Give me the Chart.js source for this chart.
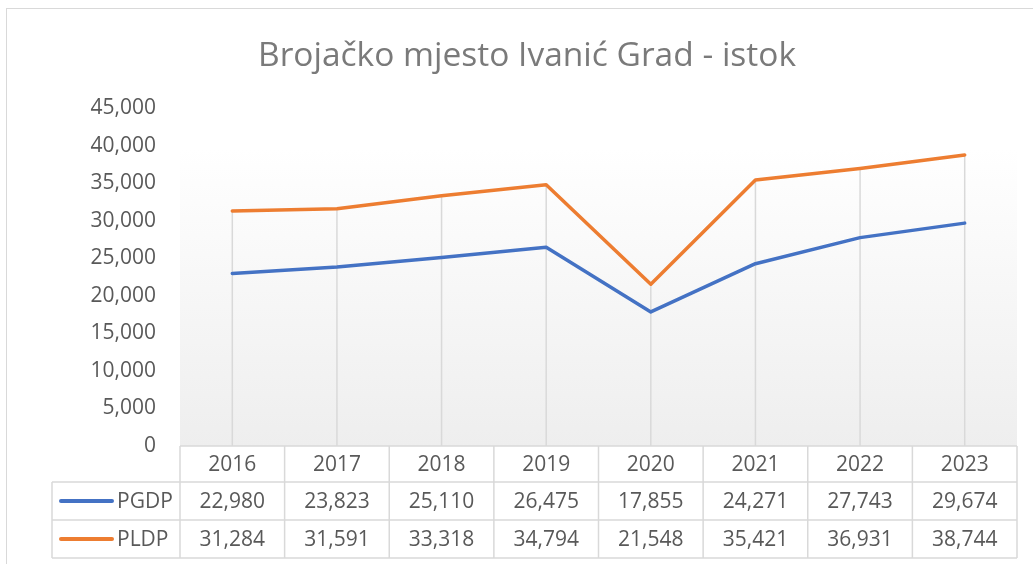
<!DOCTYPE html>
<html lang="hr">
<head>
  <meta charset="UTF-8">
  <title>Brojačko mjesto Ivanić Grad - istok</title>
  <script src="https://cdn.jsdelivr.net/npm/chart.js"></script>
  <style>
    html, body {
      margin: 0;
      padding: 0;
      background: #fff;
      overflow: hidden;
    }
    #okvir {
      position: absolute;
      left: 6px;
      top: 8px;
      width: 1100px;
      height: 620px;
      border: 1px solid #d9d9d9;
    }
    #graf {
      position: absolute;
      left: 0;
      top: 0;
    }
  </style>
</head>
<body>
  <div id="okvir"></div>
  <canvas id="graf" width="1033" height="564"></canvas>

  <script>
    const naslov = 'Brojačko mjesto Ivanić Grad - istok';
    const godine = ['2016', '2017', '2018', '2019', '2020', '2021', '2022', '2023'];
    const pgdp = [22980, 23823, 25110, 26475, 17855, 24271, 27743, 29674];
    const pldp = [31284, 31591, 33318, 34794, 21548, 35421, 36931, 38744];
    const nazivi = ['PGDP', 'PLDP'];
    const boje = ['#4472C4', '#ED7D31'];

    const font = "'Open Sans', 'Liberation Sans', sans-serif";
    const sivaTekst = '#595959';
    const sivaLinija = '#d9d9d9';

    const broj = v => v.toLocaleString('en-US');

    // naslov (centriran kao u Excelu, malo desno od sredine)
    const naslovPlugin = {
      id: 'naslovPlugin',
      afterDraw(chart) {
        const { ctx } = chart;
        ctx.save();
        ctx.fillStyle = '#7a7a7a';
        ctx.font = '33.5px ' + font;
        ctx.textAlign = 'center';
        ctx.textBaseline = 'middle';
        ctx.fillText(naslov, 527, 56);
        ctx.restore();
      }
    };

    // pozadina podrucja grafa (gradijent) i okomite linije do osi
    const pozadina = {
      id: 'pozadina',
      beforeDatasetsDraw(chart) {
        const { ctx, chartArea: a, scales } = chart;
        ctx.save();
        const g = ctx.createLinearGradient(0, a.top, 0, a.bottom);
        g.addColorStop(0, '#ffffff');
        g.addColorStop(0.12, '#ffffff');
        g.addColorStop(1, '#eeeeee');
        ctx.fillStyle = g;
        ctx.fillRect(a.left, a.top, a.right - a.left, a.bottom - a.top);

        ctx.strokeStyle = sivaLinija;
        ctx.lineWidth = 1.5;
        godine.forEach((_, i) => {
          const x = scales.x.getPixelForValue(i);
          const najvisa = Math.max(pgdp[i], pldp[i]);
          const y = scales.y.getPixelForValue(najvisa);
          ctx.beginPath();
          ctx.moveTo(x, y);
          ctx.lineTo(x, a.bottom);
          ctx.stroke();
        });
        ctx.restore();
      }
    };

    // tablica podataka ispod grafa
    const tablica = {
      id: 'tablica',
      afterDraw(chart) {
        const { ctx, chartArea: a, scales } = chart;
        const sirina = scales.x.getPixelForValue(1) - scales.x.getPixelForValue(0);
        const lijevo = a.left;
        const desno = a.left + sirina * godine.length;
        const legLijevo = 52;
        const redovi = [a.bottom, a.bottom + 36, a.bottom + 74, a.bottom + 112];

        ctx.save();
        ctx.strokeStyle = sivaLinija;
        ctx.lineWidth = 1.5;

        // vodoravne linije
        ctx.beginPath();
        ctx.moveTo(lijevo, redovi[0]);
        ctx.lineTo(desno, redovi[0]);
        for (let r = 1; r < redovi.length; r++) {
          ctx.moveTo(legLijevo, redovi[r]);
          ctx.lineTo(desno, redovi[r]);
        }
        // okomite linije
        for (let i = 0; i <= godine.length; i++) {
          const x = lijevo + i * sirina;
          ctx.moveTo(x, redovi[0]);
          ctx.lineTo(x, redovi[3]);
        }
        ctx.moveTo(legLijevo, redovi[1]);
        ctx.lineTo(legLijevo, redovi[3]);
        ctx.stroke();

        ctx.fillStyle = sivaTekst;
        ctx.font = '21px ' + font;
        ctx.textAlign = 'center';
        ctx.textBaseline = 'middle';
        godine.forEach((g, i) => {
          const x = scales.x.getPixelForValue(i);
          ctx.fillText(g, x, (redovi[0] + redovi[1]) / 2 + 1);
          ctx.fillText(broj(pgdp[i]), x, (redovi[1] + redovi[2]) / 2 + 1);
          ctx.fillText(broj(pldp[i]), x, (redovi[2] + redovi[3]) / 2 + 1);
        });

        // legenda u tablici
        nazivi.forEach((n, r) => {
          const y = (redovi[r + 1] + redovi[r + 2]) / 2;
          ctx.strokeStyle = boje[r];
          ctx.lineWidth = 4;
          ctx.lineCap = 'round';
          ctx.beginPath();
          ctx.moveTo(61, y);
          ctx.lineTo(112, y);
          ctx.stroke();
          ctx.fillStyle = sivaTekst;
          ctx.textAlign = 'left';
          ctx.fillText(n, 117, y + 1);
        });
        ctx.restore();
      }
    };

    const ctx = document.getElementById('graf').getContext('2d');
    new Chart(ctx, {
      type: 'line',
      data: {
        labels: godine,
        datasets: [
          {
            label: nazivi[0],
            data: pgdp,
            borderColor: boje[0],
            borderWidth: 3.5,
            pointRadius: 0,
            tension: 0,
            borderCapStyle: 'round',
            borderJoinStyle: 'round'
          },
          {
            label: nazivi[1],
            data: pldp,
            borderColor: boje[1],
            borderWidth: 3.5,
            pointRadius: 0,
            tension: 0,
            borderCapStyle: 'round',
            borderJoinStyle: 'round'
          }
        ]
      },
      options: {
        responsive: false,
        animation: false,
        layout: {
          padding: { left: 0, right: 16, top: 108, bottom: 118 }
        },
        plugins: {
          legend: { display: false },
          tooltip: { enabled: false },
          title: { display: false }
        },
        scales: {
          x: {
            type: 'category',
            offset: true,
            display: false
          },
          y: {
            min: 0,
            max: 45000,
            border: { display: false },
            grid: { display: false, drawTicks: false },
            ticks: {
              stepSize: 5000,
              color: sivaTekst,
              padding: 24,
              font: { family: font, size: 21 },
              callback: v => broj(v)
            },
            afterFit(scale) {
              scale.width = 180;
            }
          }
        }
      },
      plugins: [pozadina, tablica, naslovPlugin]
    });
  </script>
</body>
</html>
